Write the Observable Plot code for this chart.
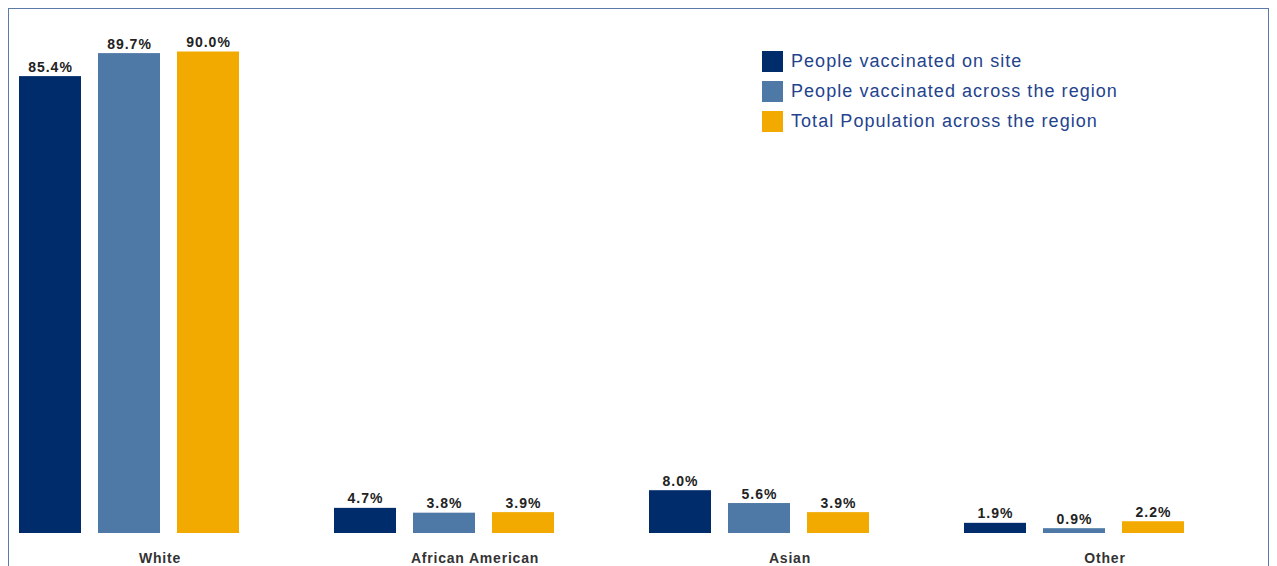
<!DOCTYPE html>
<html><head><meta charset="utf-8">
<script src="https://cdn.jsdelivr.net/npm/d3@7"></script>
<script src="https://cdn.jsdelivr.net/npm/@observablehq/plot@0.6"></script>
<style>
body{margin:0;background:#fff;overflow:hidden;font-family:"Liberation Sans",Arial,sans-serif;}
#wrap{position:relative;width:1277px;height:566px;overflow:hidden;}
#frame{position:absolute;left:8px;top:8px;width:1261px;height:620px;border:1.5px solid #5b7aa8;box-sizing:border-box;pointer-events:none;}
#chart{position:absolute;left:0;top:0;}
#legend{position:absolute;left:762px;top:51px;}
.row{display:flex;align-items:center;height:21px;margin-bottom:9px;}
.sw{width:21px;height:21px;margin-right:8px;}
.lt{font-size:18px;color:#24438d;letter-spacing:1.05px;white-space:nowrap;}
svg text{font-family:"Liberation Sans",Arial,sans-serif;}
g[aria-label="fx-axis tick label"] text{font-weight:bold;font-size:14px;fill:#333;letter-spacing:0.8px;}
g[aria-label="text"] text{letter-spacing:1px;}
</style>
</head><body>
<div id="wrap"><div id="chart"></div><div id="legend"></div><div id="frame"></div></div>
<script>
const categories = ["White", "African American", "Asian", "Other"];
const seriesNames = ["People vaccinated on site", "People vaccinated across the region", "Total Population across the region"];
const onSite = [85.4, 4.7, 8.0, 1.9];
const acrossRegion = [89.7, 3.8, 5.6, 0.9];
const totalPopulation = [90.0, 3.9, 3.9, 2.2];
const colors = ["#002C6C", "#4E78A6", "#F2AA00"];

const seriesValues = [onSite, acrossRegion, totalPopulation];
const data = [];
categories.forEach((c, i) => {
  seriesNames.forEach((s, j) => {
    data.push({category: c, series: s, value: seriesValues[j][i]});
  });
});

const chart = Plot.plot({
  width: 1277,
  height: 566,
  marginLeft: 0,
  marginRight: 14,
  marginTop: 51.5,
  marginBottom: 33,
  fx: {domain: categories, padding: 0, label: null, axis: "bottom", tickSize: 0, tickPadding: 20},
  x: {domain: seriesNames, paddingInner: 0.21, paddingOuter: 0.59, align: 0.18, axis: null},
  y: {domain: [0, 90], axis: null},
  color: {domain: seriesNames, range: colors},
  marks: [
    Plot.barY(data, {fx: "category", x: "series", y: "value", fill: "series"}),
    Plot.text(data, {fx: "category", x: "series", y: "value", text: d => d.value.toFixed(1) + "%",
      lineAnchor: "bottom", dy: -5, fontWeight: "bold", fontSize: 14, fill: "#222"})
  ]
});
document.getElementById("chart").appendChild(chart);

const legend = document.getElementById("legend");
seriesNames.forEach((s, j) => {
  const row = document.createElement("div");
  row.className = "row";
  const sw = document.createElement("div");
  sw.className = "sw";
  sw.style.background = colors[j];
  const lt = document.createElement("div");
  lt.className = "lt";
  lt.textContent = s;
  row.appendChild(sw); row.appendChild(lt);
  legend.appendChild(row);
});
</script>
</body></html>
